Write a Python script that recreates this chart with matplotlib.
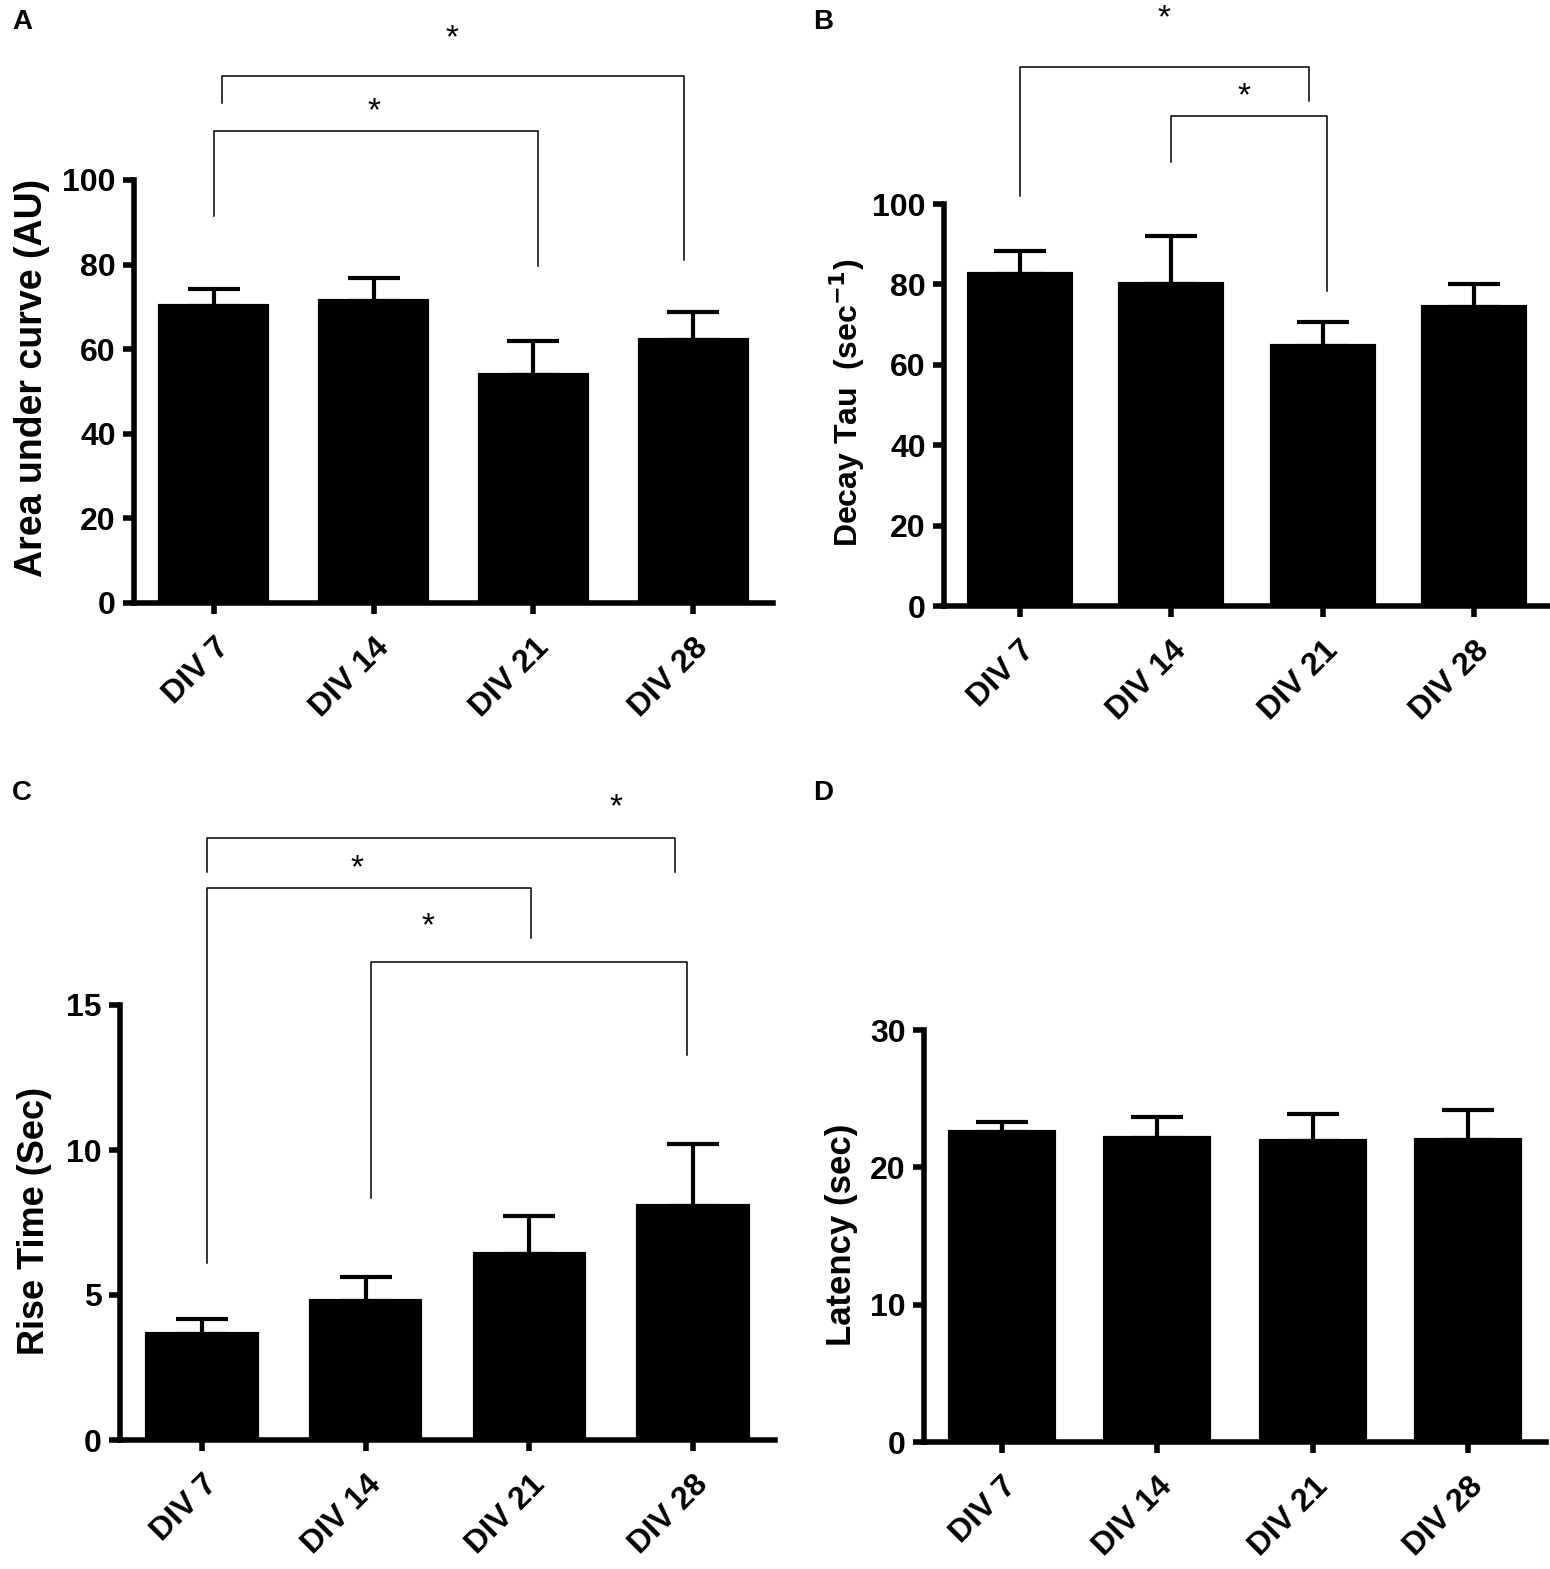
import numpy as np
import matplotlib
matplotlib.use('Agg')
import matplotlib.pyplot as plt

plt.rcParams['font.family'] = ['Liberation Sans', 'DejaVu Sans']
plt.rcParams['font.weight'] = 'bold'

groups = ['DIV 7', 'DIV 14', 'DIV 21', 'DIV 28']

# panel A - area under curve
auc_mean = [70.3, 71.4, 53.8, 62.2]
auc_sem = [4.0, 5.5, 8.2, 6.5]
# panel B - decay tau
tau_mean = [82.6, 80.0, 64.8, 74.3]
tau_sem = [5.7, 12.1, 5.9, 5.9]
# panel C - rise time
rise_mean = [3.66, 4.80, 6.42, 8.07]
rise_sem = [0.51, 0.82, 1.30, 2.13]
# panel D - latency
lat_mean = [22.6, 22.1, 21.9, 22.0]
lat_sem = [0.7, 1.6, 2.0, 2.2]

# significance brackets: (x_left, x_right, y_top, y_left_end, y_right_end)
auc_brackets = [(0.0, 2.03, 111.6, 91.6, 79.7), (0.05, 2.94, 124.6, 118.2, 81.1)]
auc_stars = [(1.0, 116.2), (1.49, 133.5)]
tau_brackets = [(0.0, 1.91, 134.0, 102.0, 125.7), (1.0, 2.03, 122.0, 110.4, 78.4)]
tau_stars = [(0.955, 146.0), (1.48, 126.6)]
rise_brackets = [(0.03, 2.89, 20.75, 19.6, 19.6), (0.03, 2.01, 19.03, 6.1, 17.32),
                 (1.03, 2.96, 16.5, 8.35, 13.28)]
rise_stars = [(2.53, 21.8), (0.95, 19.7), (1.38, 17.7)]

W, H = 1550, 1569
fig = plt.figure(figsize=(W / 100, H / 100), dpi=100)


def rect(x0, x1, y0, ytop):
    return [x0 / W, 1 - y0 / H, (x1 - x0) / W, (y0 - ytop) / H]


def panel(r, mean, sem, ymax, yticks, brackets, stars):
    ax = fig.add_axes(r)
    x = np.arange(len(groups))
    ax.bar(x, mean, width=0.67, color='black', edgecolor='black', linewidth=3, zorder=2)
    ax.errorbar(x, mean, yerr=[np.zeros(len(sem)), sem], fmt='none', ecolor='black',
                elinewidth=3, capsize=19, capthick=3, zorder=3)
    ax.set_xlim(-0.5, 3.5)
    ax.set_ylim(0, ymax)
    ax.set_yticks(yticks)
    ax.set_xticks(x)
    ax.set_xticklabels(groups, rotation=45, ha='right', va='top', rotation_mode='anchor')
    for s in ['top', 'right']:
        ax.spines[s].set_visible(False)
    for s in ['left', 'bottom']:
        ax.spines[s].set_linewidth(4)
    ax.tick_params(axis='both', length=8, width=4, labelsize=23)
    ax.tick_params(axis='y', pad=5)
    ax.tick_params(axis='x', pad=13)
    for xl, xr, yt, yl, yr in brackets:
        ax.plot([xl, xl, xr, xr], [yl, yt, yt, yr], color='black', lw=1.1,
                clip_on=False, zorder=4)
    for sx, sy in stars:
        ax.text(sx, sy, '*', ha='center', va='center', fontsize=24,
                fontweight='normal', clip_on=False)
    return ax


panel(rect(134, 773, 603, 180), auc_mean, auc_sem, 100, [0, 20, 40, 60, 80, 100],
      auc_brackets, auc_stars)
panel(rect(944, 1550, 606, 204), tau_mean, tau_sem, 100, [0, 20, 40, 60, 80, 100],
      tau_brackets, tau_stars)
panel(rect(120, 775, 1440, 1005), rise_mean, rise_sem, 15, [0, 5, 10, 15],
      rise_brackets, rise_stars)
panel(rect(924, 1546, 1442, 1030), lat_mean, lat_sem, 30, [0, 10, 20, 30], [], [])

# y labels
fig.text(32 / W, 1 - 378 / H, 'Area under curve (AU)', rotation=90, ha='center',
         va='center', fontsize=27)
fig.text(847 / W, 1 - 403 / H, 'Decay Tau  (sec$^{\\mathbf{-1}}$)', rotation=90,
         ha='center', va='center', fontsize=23)
fig.text(35 / W, 1 - 1221 / H, 'Rise Time (Sec)', rotation=90, ha='center',
         va='center', fontsize=26)
fig.text(842 / W, 1 - 1235 / H, 'Latency (sec)', rotation=90, ha='center',
         va='center', fontsize=25)

# panel letters
for lab, px, py in [('A', 22, 22), ('B', 823, 22), ('C', 22, 793), ('D', 823, 793)]:
    fig.text(px / W, 1 - py / H, lab, ha='center', va='center', fontsize=20)

fig.savefig('out.png', dpi=100)
